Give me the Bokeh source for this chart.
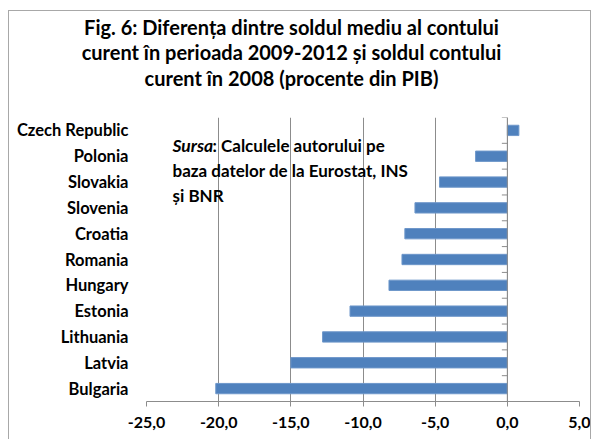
from bokeh.plotting import figure
from bokeh.layouts import column, row
from bokeh.models import Range1d, FixedTicker, Span, Label, ColumnDataSource, Div
from bokeh.embed import file_html
from bokeh.resources import INLINE

countries = ["Bulgaria", "Latvia", "Lithuania", "Estonia", "Hungary", "Romania",
             "Croatia", "Slovenia", "Slovakia", "Polonia", "Czech Republic"]
values = [-20.2, -15.0, -12.8, -10.9, -8.2, -7.3, -7.1, -6.4, -4.7, -2.2, 0.8]
x_ticks = [-25, -20, -15, -10, -5, 0, 5]
x_tick_labels = ["-25,0", "-20,0", "-15,0", "-10,0", "-5,0", "0,0", "5,0"]
title_lines = ["Fig. 6: Diferența dintre soldul mediu al contului",
               "curent în perioada 2009-2012 și soldul contului",
               "curent în 2008 (procente din PIB)"]
source_head = "Sursa"
source_lines = [": Calculele autorului pe",
                "baza datelor de la Eurostat, INS",
                "și BNR"]

FONT = "Lato"
BAR = "#4F81BD"
GRID = "#8C8C8C"
FRAME = "#A8A8A8"

n = len(countries)
ypos = [i + 0.5 for i in range(n)]
src = ColumnDataSource(dict(y=ypos, v=values, name=countries))

# title block with the top part of the chart border
title_div = Div(
    text=('<div style="padding:10px 0 0 8px;">'
          '<div style="box-sizing:border-box;width:583px;height:98px;'
          'border-top:1px solid ' + FRAME + ';border-left:1px solid ' + FRAME + ';'
          'border-right:1px solid ' + FRAME + ';'
          'padding:3.5px 16px 0 0;text-align:center;font-family:Lato;'
          'font-weight:bold;font-size:20px;line-height:25.5px;color:#000;">'
          + "<br>".join(title_lines) + '</div></div>'),
    width=598, height=108, margin=0)

left_div = Div(text=('<div style="margin-left:8px;width:1px;height:331px;'
                     'background-color:' + FRAME + ';"></div>'),
               width=9, height=331, margin=0)
right_div = Div(text=('<div style="width:1px;height:331px;'
                      'background-color:' + FRAME + ';"></div>'),
                width=8, height=331, margin=0)

fig = figure(width=581, height=331, output_backend="svg", toolbar_location=None,
             x_range=Range1d(x_ticks[0], x_ticks[-1]), y_range=Range1d(0, n),
             min_border_left=137, min_border_right=11, min_border_top=9,
             min_border_bottom=38)
fig.outline_line_color = None
fig.background_fill_color = "white"
fig.border_fill_color = "white"

# bars
fig.hbar(y="y", left=0, right="v", height=0.4, source=src,
         fill_color=BAR, line_color="#6E97CA", line_width=1)

# x axis
fig.xaxis.ticker = FixedTicker(ticks=x_ticks)
fig.xaxis.major_label_overrides = {t: l for t, l in zip(x_ticks, x_tick_labels)}
fig.xaxis.axis_line_color = GRID
fig.xaxis.major_tick_line_color = GRID
fig.xaxis.major_tick_out = 5
fig.xaxis.major_tick_in = 0
fig.xaxis.minor_tick_line_color = None
fig.xaxis.major_label_text_font = FONT
fig.xaxis.major_label_text_font_style = "bold"
fig.xaxis.major_label_text_font_size = "16px"
fig.xaxis.major_label_text_color = "black"
fig.xaxis.major_label_standoff = 10

# y axis (categories)
fig.yaxis.ticker = FixedTicker(ticks=ypos)
fig.yaxis.major_label_overrides = {y: c for y, c in zip(ypos, countries)}
fig.yaxis.axis_line_color = None
fig.yaxis.major_tick_line_color = None
fig.yaxis.minor_tick_line_color = None
fig.yaxis.major_tick_out = 0
fig.yaxis.major_tick_in = 0
fig.yaxis.major_label_text_font = FONT
fig.yaxis.major_label_text_font_style = "bold"
fig.yaxis.major_label_text_font_size = "16.5px"
fig.yaxis.major_label_text_color = "black"
fig.yaxis.major_label_standoff = 18

# grid
fig.xgrid.ticker = FixedTicker(ticks=x_ticks)
fig.xgrid.grid_line_color = GRID
fig.xgrid.grid_line_width = 1
fig.ygrid.grid_line_color = None

# vertical axis at zero with category tick marks
fig.add_layout(Span(location=0, dimension="height", line_color=GRID, line_width=1))
bounds = list(range(n + 1))
fig.segment(x0=[-0.38] * len(bounds), x1=[0] * len(bounds), y0=bounds, y1=bounds,
            line_color=GRID, line_width=1)

# source note
fig.add_layout(Label(x=26, y=256, x_units="screen", y_units="screen",
                     text=source_head, text_align="left", text_baseline="middle",
                     text_font=FONT, text_font_style="bold italic",
                     text_font_size="17.5px", text_color="black"))
fig.add_layout(Label(x=66, y=256, x_units="screen", y_units="screen",
                     text=source_lines[0], text_align="left", text_baseline="middle",
                     text_font=FONT, text_font_style="bold",
                     text_font_size="17px", text_color="black"))
for i, line in enumerate(source_lines[1:]):
    fig.add_layout(Label(x=26, y=231 - 25 * i, x_units="screen", y_units="screen",
                         text=line, text_align="left", text_baseline="middle",
                         text_font=FONT, text_font_style="bold",
                         text_font_size="17px", text_color="black"))

p = column(title_div, row(left_div, fig, right_div))

open("out.html", "w").write(file_html(p, INLINE))
